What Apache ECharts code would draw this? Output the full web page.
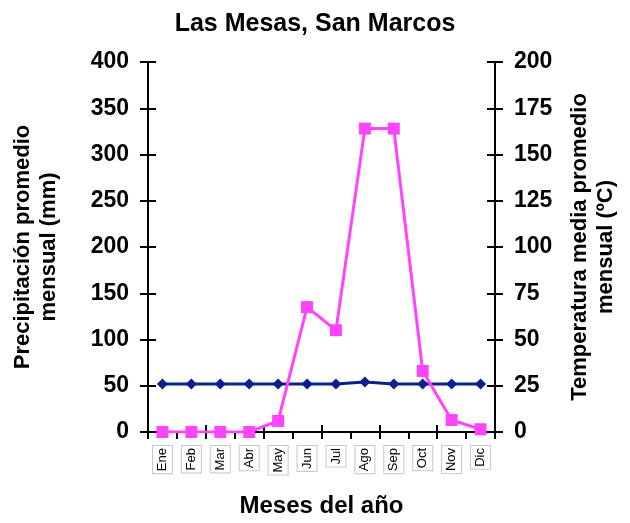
<!DOCTYPE html>
<html><head><meta charset="utf-8">
<script src="https://cdn.jsdelivr.net/npm/echarts@6/dist/echarts.min.js"></script>
<style>html,body{margin:0;padding:0;background:#fff}#c{width:630px;height:523px}</style>
</head><body><div id="c"></div>
<script>
const months = ["Ene","Feb","Mar","Abr","May","Jun","Jul","Ago","Sep","Oct","Nov","Dic"];
const precip = [0,0,0,0,12,135,110,328,328,66,13,3];
const temp = [26,26,26,26,26,26,26,27,26,26,26,26];
const leftTicks = [0,50,100,150,200,250,300,350,400];
const rightTicks = [0,25,50,75,100,125,150,175,200];

const F = 'Arial, "Liberation Sans", sans-serif';
const chart = echarts.init(document.getElementById('c'));
const lbl = {color:'#000', fontFamily:F, fontWeight:'bold', fontSize:23};
const axLine = {show:true, lineStyle:{color:'#000', width:2}};
function yA(pos, max, interval, name, showLabel, inside, nameGap){
  return {type:'value', position:pos, min:0, max:max, interval:interval,
    name:name, nameLocation:'middle', nameGap:nameGap, nameRotate:90,
    nameTextStyle:{color:'#000', fontFamily:F, fontWeight:'bold', fontSize:22, lineHeight:26},
    axisLine:axLine, axisTick:{show:true, inside:inside, length:8, lineStyle:{color:'#000', width:2}},
    axisLabel:{show:showLabel, ...lbl, margin:19}, splitLine:{show:false}};
}
chart.setOption({
  animation:false,
  title:{text:'Las Mesas, San Marcos', left:'center', top:7,
    textStyle:{color:'#000', fontFamily:F, fontWeight:'bold', fontSize:25}},
  grid:{left:148, right:135, top:62, bottom:91},
  xAxis:[{type:'category', data:months, boundaryGap:true,
    name:'Meses del año', nameLocation:'middle', nameGap:62,
    nameTextStyle:{color:'#000', fontFamily:F, fontWeight:'bold', fontSize:24},
    axisLine:axLine, axisTick:{show:true, length:7, lineStyle:{color:'#000', width:2}},
    axisLabel:{rotate:90, color:'#000', fontFamily:F, fontSize:13, margin:14,
      borderColor:'#c8c8c8', borderWidth:1, padding:[3,2,3,2], backgroundColor:'#fff'}},
   {type:'category', data:months, position:'bottom', boundaryGap:true,
    axisLine:{show:false}, axisTick:{show:true, inside:true, length:7, lineStyle:{color:'#000', width:2}},
    axisLabel:{show:false}}],
  yAxis:[
    yA('left', 400, 50, 'Precipitación promedio\nmensual (mm)', true, false, 86),
    yA('right', 200, 25, 'Temperatura media promedio\nmensual (ºC)', true, false, 72),
    yA('left', 400, 50, '', false, true, 0),
    yA('right', 200, 25, '', false, true, 0)
  ],
  series:[
    {type:'line', name:'Temperatura', yAxisIndex:1, data:temp, symbol:'diamond', symbolSize:11,
      lineStyle:{color:'#0b1f8f', width:3}, itemStyle:{color:'#0b1f8f'}, z:3},
    {type:'line', name:'Precipitación', yAxisIndex:0, data:precip, symbol:'rect', symbolSize:12,
      lineStyle:{color:'#ff44ff', width:3}, itemStyle:{color:'#ff44ff'}, z:4}
  ]
});
</script></body></html>
